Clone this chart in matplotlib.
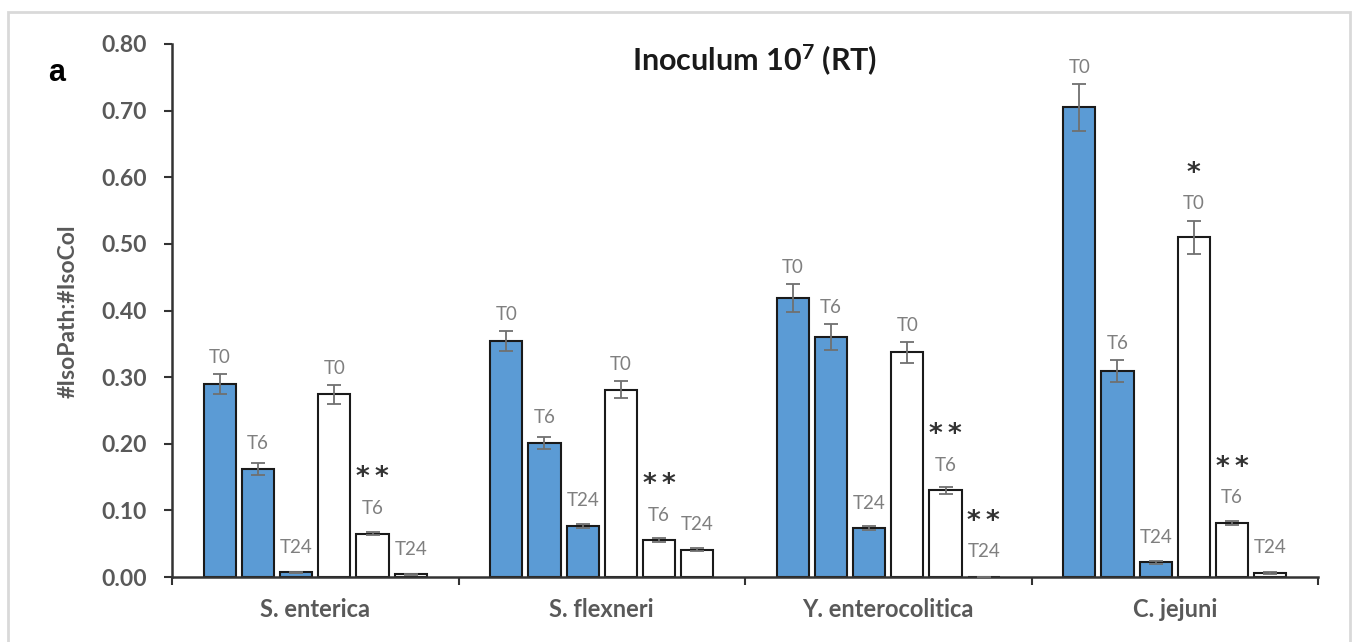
import numpy as np
import matplotlib
matplotlib.use("Agg")
import matplotlib.pyplot as plt
from matplotlib.patches import Rectangle

plt.rcParams["font.family"] = ["Lato", "DejaVu Sans"]
plt.rcParams["mathtext.fontset"] = "custom"
plt.rcParams["mathtext.default"] = "bf"
plt.rcParams["mathtext.bf"] = "Lato:bold"

# Ratio of pathogen isolates to colony isolates, per species and time point
species = ["S. enterica", "S. flexneri", "Y. enterocolitica", "C. jejuni"]
times = ["T0", "T6", "T24"]

blue_t0 = [0.290, 0.354, 0.419, 0.705]
blue_t6 = [0.162, 0.201, 0.360, 0.309]
blue_t24 = [0.007, 0.077, 0.073, 0.022]
white_t0 = [0.274, 0.281, 0.337, 0.510]
white_t6 = [0.065, 0.055, 0.130, 0.081]
white_t24 = [0.004, 0.041, 0.000, 0.006]

blue_t0_err = [0.015, 0.015, 0.021, 0.035]
blue_t6_err = [0.009, 0.009, 0.019, 0.016]
blue_t24_err = [0.001, 0.003, 0.003, 0.002]
white_t0_err = [0.014, 0.013, 0.016, 0.025]
white_t6_err = [0.002, 0.003, 0.005, 0.003]
white_t24_err = [0.001, 0.002, 0.000, 0.002]

# significance marks for the white series (T0, T6, T24) in each species
white_marks = [
    ["", "**", ""],
    ["", "**", ""],
    ["", "**", "**"],
    ["*", "**", ""],
]

series = [
    (blue_t0, blue_t0_err, "#5B9BD5", 0),
    (blue_t6, blue_t6_err, "#5B9BD5", 1),
    (blue_t24, blue_t24_err, "#5B9BD5", 2),
    (white_t0, white_t0_err, "white", 0),
    (white_t6, white_t6_err, "white", 1),
    (white_t24, white_t24_err, "white", 2),
]

fig = plt.figure(figsize=(13.53, 6.42), dpi=100)
ax = fig.add_axes([172 / 1353, 65 / 642, 1146 / 1353, 533 / 642])

x = np.arange(len(species)) + 0.5
step = 0.1333
width = 0.112

for i, (vals, errs, color, t) in enumerate(series):
    pos = x + (i - 2.5) * step
    ax.bar(pos, vals, width=width, color=color, edgecolor="#1a1a1a",
           linewidth=1.5, zorder=2)
    ax.errorbar(pos, vals, yerr=errs, fmt="none", ecolor="#707070",
                elinewidth=1.3, capsize=5, capthick=1.3, zorder=3)
    for j, (p, v, e) in enumerate(zip(pos, vals, errs)):
        ly = v + max(e + 0.025, 0.038)
        ax.text(p, ly, times[t], ha="center", va="center", fontsize=13.5,
                color="#7f7f7f")
        if i >= 3 and white_marks[j][t]:
            mark = "\u2009".join(white_marks[j][t])
            ax.text(p, ly + 0.045, mark, ha="center", va="center",
                    fontsize=19, fontweight="bold", color="#333333",
                    family=["DejaVu Sans"])

ax.set_xlim(0, 4)
ax.set_ylim(0, 0.8)
ax.set_yticks(np.arange(0, 0.81, 0.1))
ax.set_yticklabels([f"{v:.2f}" for v in np.arange(0, 0.81, 0.1)])
ax.set_xticks([0, 1, 2, 3, 4])
ax.set_xticklabels([])
ax.set_xticks(x, minor=True)
ax.set_xticklabels(species, minor=True)
ax.tick_params(axis="x", which="major", direction="out", length=6,
               width=1.5, color="#333333")
ax.tick_params(axis="x", which="minor", length=0, pad=15, labelsize=17,
               labelcolor="#595959")
ax.tick_params(axis="y", direction="out", length=6, width=1.5,
               color="#333333", pad=12, labelsize=16.5, labelcolor="#595959")
for lbl in ax.get_xticklabels(minor=True) + ax.get_yticklabels():
    lbl.set_fontweight("bold")

for side in ["top", "right"]:
    ax.spines[side].set_visible(False)
for side in ["left", "bottom"]:
    ax.spines[side].set_linewidth(1.8)
    ax.spines[side].set_color("#333333")

fig.text(0.5 * (630 + 880) / 1353, 1 - 60 / 642, "Inoculum 10$^7$ (RT)",
         ha="center", va="center", fontsize=22, fontweight="bold",
         color="#1a1a1a")
fig.text(57 / 1353, 1 - 73 / 642, "a", ha="center", va="center",
         fontsize=22, fontweight="bold", family=["Liberation Sans"],
         color="black")
fig.text(68 / 1353, 1 - 311 / 642, "#IsoPath:#IsoCol", rotation=90,
         ha="center", va="center", fontsize=16.5, fontweight="bold",
         color="#595959")

# light frame around the panel
fig.patches.append(Rectangle((8 / 1353, -0.1), 1342 / 1353, 1.1 - 12 / 642,
                             transform=fig.transFigure, fill=False,
                             edgecolor="#d9d9d9", linewidth=2))

fig.savefig("out.png", dpi=100)
